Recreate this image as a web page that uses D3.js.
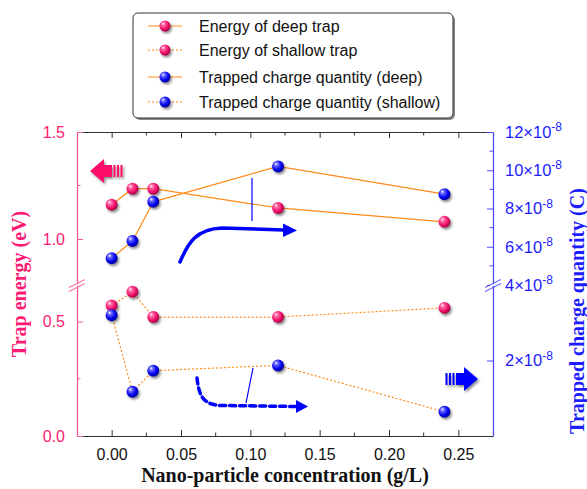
<!DOCTYPE html>
<html>
<head>
<meta charset="utf-8">
<script src="https://cdn.jsdelivr.net/npm/d3@7"></script>
<style>
  body { margin: 0; background: #fff; }
  svg { display: block; }
  .tick-label { font-family: "Liberation Sans", Arial, sans-serif; font-size: 16px; }
  .title { font-family: "Liberation Serif", "Times New Roman", serif; font-weight: bold; font-size: 20px; }
  .legend-text { font-family: "Liberation Sans", Arial, sans-serif; font-size: 16px; fill: #111; }
</style>
</head>
<body>
<svg id="chart"></svg>
<script>
// Data
const concentration = [0, 0.015, 0.03, 0.12, 0.24];
const deepEnergy = [1.16, 1.235, 1.235, 1.145, 1.08];
const shallowEnergy = [0.57, 0.63, 0.52, 0.52, 0.56];
const deepCharge = [5.4e-8, 6.3e-8, 8.35e-8, 10.2e-8, 8.75e-8];
const shallowCharge = [3.2e-8, 1.17e-8, 1.73e-8, 1.87e-8, 0.64e-8];

const xTicks = [0, 0.05, 0.1, 0.15, 0.2, 0.25];
const xMinorTicks = [0.025, 0.075, 0.125, 0.175, 0.225];
const leftTicks = [0, 0.5, 1.0, 1.5];
const leftMinorTicks = [0.25, 1.25];
const rightTicks = [2e-8, 4e-8, 6e-8, 8e-8, 10e-8, 12e-8];
const rightMinorTicks = [5e-8, 7e-8, 9e-8, 11e-8];

const legendLabels = [
  "Energy of deep trap",
  "Energy of shallow trap",
  "Trapped charge quantity (deep)",
  "Trapped charge quantity (shallow)",
];

const pink = "#ff1a75";
const pinkAxis = "#ff5a9a";
const blue = "#1c1cff";
const blueAxis = "#4b4bff";
const orange = "#ff8c1a";

const width = 587;
const height = 489;
const plot = { left: 77, right: 493, top: 132, bottom: 436, breakY: 285 };

const svg = d3.select("#chart").attr("width", width).attr("height", height);

// Gradients / shadow for the ball markers
const defs = svg.append("defs");
function ballGradient(id, light, mid, dark) {
  const g = defs
    .append("radialGradient")
    .attr("id", id)
    .attr("cx", "40%")
    .attr("cy", "40%")
    .attr("r", "60%")
    .attr("fx", "32%")
    .attr("fy", "28%");
  g.append("stop").attr("offset", "0%").attr("stop-color", "#fff");
  g.append("stop").attr("offset", "25%").attr("stop-color", light);
  g.append("stop").attr("offset", "70%").attr("stop-color", mid);
  g.append("stop").attr("offset", "100%").attr("stop-color", dark);
}
ballGradient("ballPink", "#ff6aa6", "#f0106a", "#a8004a");
ballGradient("ballBlue", "#6a6aff", "#0000f0", "#00009a");

defs
  .append("filter")
  .attr("id", "shadow")
  .attr("x", "-50%")
  .attr("y", "-50%")
  .attr("width", "200%")
  .attr("height", "200%")
  .append("feDropShadow")
  .attr("dx", 1.5)
  .attr("dy", 2)
  .attr("stdDeviation", 1.2)
  .attr("flood-color", "#444")
  .attr("flood-opacity", 0.6);

// Scales (both y axes are broken at breakY)
const x = d3.scaleLinear().domain([-0.025, 0.275]).range([plot.left, plot.right]);
const yLeft = d3
  .scaleLinear()
  .domain([0, 0.66, 0.785, 1.5])
  .range([plot.bottom, plot.breakY, plot.breakY, plot.top]);
const yRight = d3
  .scaleLinear()
  .domain([0, 4e-8, 12e-8])
  .range([plot.bottom, plot.breakY, plot.top]);

// Axes
const xAxisBottom = d3
  .axisBottom(x)
  .tickValues(xTicks)
  .tickSize(-6)
  .tickSizeOuter(0)
  .tickPadding(13)
  .tickFormat(d3.format(".2f"));
const gx = svg
  .append("g")
  .attr("transform", `translate(0,${plot.bottom})`)
  .call(xAxisBottom);
gx.select(".domain").attr("stroke", "#333");
gx.selectAll(".tick line").attr("stroke", "#333");
gx.selectAll("text").attr("class", "tick-label").attr("fill", "#111");
gx.selectAll(".minor")
  .data(xMinorTicks)
  .join("line")
  .attr("x1", (d) => x(d))
  .attr("x2", (d) => x(d))
  .attr("y1", 0)
  .attr("y2", -3.5)
  .attr("stroke", "#333");

const gxTop = svg
  .append("g")
  .attr("transform", `translate(0,${plot.top})`)
  .call(d3.axisTop(x).tickValues(xTicks).tickSize(-6).tickSizeOuter(0).tickFormat(""));
gxTop.select(".domain").attr("stroke", "#333");
gxTop.selectAll(".tick line").attr("stroke", "#333");
gxTop
  .selectAll(".minor")
  .data(xMinorTicks)
  .join("line")
  .attr("x1", (d) => x(d))
  .attr("x2", (d) => x(d))
  .attr("y1", 0)
  .attr("y2", 3.5)
  .attr("stroke", "#333");

const gyLeft = svg
  .append("g")
  .attr("transform", `translate(${plot.left},0)`)
  .call(
    d3
      .axisLeft(yLeft)
      .tickValues(leftTicks)
      .tickSize(-6)
      .tickSizeOuter(0)
      .tickPadding(12)
      .tickFormat(d3.format(".1f"))
  );
gyLeft.select(".domain").attr("stroke", pinkAxis).attr("stroke-width", 1.3);
gyLeft.selectAll(".tick line").attr("stroke", pinkAxis);
gyLeft.selectAll("text").attr("class", "tick-label").attr("fill", pink);
gyLeft
  .selectAll(".minor")
  .data(leftMinorTicks)
  .join("line")
  .attr("y1", (d) => yLeft(d))
  .attr("y2", (d) => yLeft(d))
  .attr("x1", 0)
  .attr("x2", 3.5)
  .attr("stroke", pinkAxis);

const gyRight = svg
  .append("g")
  .attr("transform", `translate(${plot.right},0)`)
  .call(
    d3
      .axisRight(yRight)
      .tickValues(rightTicks)
      .tickSize(-6)
      .tickSizeOuter(0)
      .tickPadding(12)
      .tickFormat("")
  );
gyRight.select(".domain").attr("stroke", blueAxis).attr("stroke-width", 1.3);
gyRight.selectAll(".tick line").attr("stroke", blueAxis);
gyRight
  .selectAll(".tick text")
  .attr("class", "tick-label")
  .attr("fill", blue)
  .style("font-size", "16.5px")
  .each(function (d) {
    const t = d3.select(this);
    t.append("tspan").text(`${Math.round(d * 1e8)}×10`);
    t.append("tspan").attr("dy", "-0.55em").style("font-size", "12px").text("-8");
  });
gyRight
  .selectAll(".minor")
  .data(rightMinorTicks)
  .join("line")
  .attr("y1", (d) => yRight(d))
  .attr("y2", (d) => yRight(d))
  .attr("x1", 0)
  .attr("x2", -3.5)
  .attr("stroke", blueAxis);

// Axis break marks
function breakMark(cx, color) {
  const g = svg.append("g");
  g.append("polygon")
    .attr("points", `${cx - 8},${plot.breakY + 3} ${cx + 8},${plot.breakY - 5} ${cx + 8},${plot.breakY - 3} ${cx - 8},${plot.breakY + 5}`)
    .attr("fill", "#fff");
  [-1.5, 2.5].forEach((o) => {
    g.append("line")
      .attr("x1", cx - 8)
      .attr("y1", plot.breakY + o + 4)
      .attr("x2", cx + 8)
      .attr("y2", plot.breakY + o - 4)
      .attr("stroke", color)
      .attr("stroke-width", 1);
  });
}
breakMark(plot.left, pinkAxis);
breakMark(plot.right, blueAxis);

// Axis titles
svg
  .append("text")
  .attr("class", "title")
  .attr("x", (plot.left + plot.right) / 2)
  .attr("y", 482)
  .attr("text-anchor", "middle")
  .attr("fill", "#111")
  .text("Nano-particle concentration (g/L)");
svg
  .append("text")
  .attr("class", "title")
  .attr("transform", `translate(26,${(plot.top + plot.bottom) / 2}) rotate(-90)`)
  .attr("text-anchor", "middle")
  .attr("fill", pink)
  .text("Trap energy (eV)");
svg
  .append("text")
  .attr("class", "title")
  .attr("transform", `translate(584,311) rotate(-90)`)
  .attr("text-anchor", "middle")
  .attr("fill", blue)
  .text("Trapped charge quantity (C)");

// Series
const series = [
  { values: deepEnergy, y: yLeft, dash: null, ball: "ballPink" },
  { values: shallowEnergy, y: yLeft, dash: "2,2", ball: "ballPink" },
  { values: deepCharge, y: yRight, dash: null, ball: "ballBlue" },
  { values: shallowCharge, y: yRight, dash: "2,2", ball: "ballBlue" },
];

const lines = svg.append("g");
const balls = svg.append("g");
series.forEach((s) => {
  const pts = concentration.map((c, i) => [c, s.values[i]]);
  lines
    .append("path")
    .datum(pts)
    .attr("fill", "none")
    .attr("stroke", orange)
    .attr("stroke-width", 1.2)
    .attr("stroke-dasharray", s.dash)
    .attr("d", d3.line().x((d) => x(d[0])).y((d) => s.y(d[1])));
  balls
    .selectAll(null)
    .data(pts)
    .join("circle")
    .attr("cx", (d) => x(d[0]))
    .attr("cy", (d) => s.y(d[1]))
    .attr("r", 6)
    .attr("fill", `url(#${s.ball})`)
    .attr("filter", "url(#shadow)");
});

// Annotations: block arrows pointing to each axis
function blockArrow(tipX, cy, dir, color) {
  const g = svg.append("g").attr("fill", color).attr("filter", "url(#shadow)");
  const p = (dx, dy) => `${tipX + dir * dx},${cy + dy}`;
  g.append("polygon").attr("points", [p(0, 0), p(14, -12), p(14, -6), p(22, -6), p(22, 6), p(14, 6), p(14, 12)].join(" "));
  [23.5, 27, 30.5].forEach((o) => {
    g.append("rect")
      .attr("x", dir > 0 ? tipX + o : tipX - o - 2)
      .attr("y", cy - 6)
      .attr("width", 2)
      .attr("height", 12);
  });
}
blockArrow(90, 171, 1, "#ff0a6a");
blockArrow(478, 379, -1, "#0000ff");

// Curved trend arrows
svg
  .append("path")
  .attr("d", "M180,262 C188,243 196,229 222,228 L284,230")
  .attr("fill", "none")
  .attr("stroke", "#0000ff")
  .attr("stroke-width", 3.5)
  .attr("stroke-linecap", "round");
svg.append("polygon").attr("points", "283,223.5 297,230.5 283,237").attr("fill", "#0000ff");
svg
  .append("line")
  .attr("x1", 252).attr("y1", 178).attr("x2", 252).attr("y2", 221)
  .attr("stroke", "#0000ff").attr("stroke-width", 1.2);

svg
  .append("path")
  .attr("d", "M197,378 C199,396 203,405 222,405.5 L296,406.5")
  .attr("fill", "none")
  .attr("stroke", "#0000ff")
  .attr("stroke-width", 3.5)
  .attr("stroke-dasharray", "6,4")
  .attr("stroke-linecap", "round");
svg.append("polygon").attr("points", "296,400 308,406.5 296,413").attr("fill", "#0000ff");
svg
  .append("line")
  .attr("x1", 253).attr("y1", 368).attr("x2", 246).attr("y2", 403)
  .attr("stroke", "#0000ff").attr("stroke-width", 1.2);

// Legend
const legend = svg.append("g").attr("transform", "translate(133,13)");
legend
  .append("rect")
  .attr("x", 2)
  .attr("y", 2)
  .attr("width", 320)
  .attr("height", 105)
  .attr("rx", 5)
  .attr("fill", "#888");
legend
  .append("rect")
  .attr("width", 320)
  .attr("height", 105)
  .attr("rx", 5)
  .attr("fill", "#fff")
  .attr("stroke", "#333");
const rowY = [13, 37, 64, 89];
legendLabels.forEach((label, i) => {
  const s = series[i];
  const row = legend.append("g").attr("transform", `translate(0,${rowY[i]})`);
  row.append("line")
    .attr("x1", 15).attr("x2", 49)
    .attr("stroke", orange)
    .attr("stroke-width", 1.2)
    .attr("stroke-dasharray", s.dash);
  row.append("circle")
    .attr("cx", 32)
    .attr("r", 5.5)
    .attr("fill", `url(#${s.ball})`)
    .attr("filter", "url(#shadow)");
  row.append("text")
    .attr("class", "legend-text")
    .attr("x", 66)
    .attr("dy", "0.35em")
    .text(label);
});
</script>
</body>
</html>
